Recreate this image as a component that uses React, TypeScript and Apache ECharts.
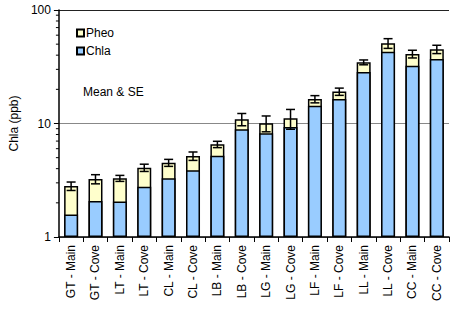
import React, { useEffect, useRef } from "react";
import * as echarts from "echarts";

const categories = [
  "GT - Main", "GT - Cove", "LT - Main", "LT - Cove", "CL - Main", "CL - Cove",
  "LB - Main", "LB - Cove", "LG - Main", "LG - Cove", "LF - Main", "LF - Cove",
  "LL - Main", "LL - Cove", "CC - Main", "CC - Cove",
];
const chla = [1.58, 2.08, 2.06, 2.77, 3.29, 3.87, 5.2, 8.9, 8.2, 9.3, 14.3, 16.4, 28.4, 42.9, 32.3, 37.0];
const pheo = [1.23, 1.16, 1.23, 1.31, 1.22, 1.3, 1.35, 2.0, 1.85, 1.8, 2.1, 2.7, 6.2, 8.0, 8.7, 8.1];
const se = [0.24, 0.3, 0.2, 0.3, 0.32, 0.44, 0.42, 1.35, 1.6, 2.2, 1.2, 1.4, 1.7, 5.0, 3.2, 3.8];
const yTicks = [1, 10, 100];
const minorTickValues = [2, 3, 4, 5, 6, 7, 8, 9, 20, 30, 40, 50, 60, 70, 80, 90];

const FONT = "Liberation Sans, Arial, sans-serif";

export default function App() {
  const ref = useRef<HTMLDivElement>(null);
  useEffect(() => {
    if (!ref.current) return;
    const chart = echarts.init(ref.current, undefined, { renderer: "svg" });
    const total = chla.map((c, i) => +(c + pheo[i]).toFixed(3));
    const errData = total.map((t, i) => [i, t - se[i], t + se[i]]);
    chart.setOption({
      animation: false,
      textStyle: { fontFamily: FONT },
      grid: { left: 58, top: 10, right: 2, bottom: 74 },
      legend: {
        orient: "vertical",
        left: 71,
        top: 22,
        itemWidth: 7,
        itemHeight: 7,
        itemGap: 6,
        icon: "rect",
        textStyle: { fontSize: 12, color: "#000", fontFamily: FONT, padding: [0, 0, 0, -3] },
        data: ["Pheo", "Chla"],
      },
      graphic: [
        {
          type: "text",
          left: 83,
          top: 86,
          style: { text: "Mean & SE", fontSize: 12, fill: "#000", fontFamily: FONT },
        },
      ],
      xAxis: {
        type: "category",
        data: categories,
        axisLine: { lineStyle: { color: "#000", width: 1.5 } },
        axisTick: { show: true, alignWithLabel: false, length: 5, lineStyle: { color: "#000" } },
        axisLabel: { rotate: 90, fontSize: 12, color: "#000", fontFamily: FONT, margin: 8, interval: 0 },
      },
      yAxis: {
        type: "log",
        logBase: 10,
        min: yTicks[0],
        max: yTicks[yTicks.length - 1],
        name: "Chla (ppb)",
        nameLocation: "middle",
        nameGap: 38,
        nameTextStyle: { fontSize: 12, color: "#000", fontFamily: FONT },
        axisLine: { show: true, lineStyle: { color: "#000", width: 1.5 } },
        axisTick: { show: true, length: 5, lineStyle: { color: "#000" } },
        minorTick: { show: false },
        axisLabel: { fontSize: 12, color: "#000", fontFamily: FONT, margin: 8 },
        splitLine: { show: true, lineStyle: { color: ["#888", "#888", "#222"], width: 1 } },
      },
      series: [
        {
          name: "Pheo",
          type: "bar",
          data: total,
          barWidth: 14,
          barGap: "-100%",
          itemStyle: { color: "#FFFFCC", borderColor: "#000", borderWidth: 1.5 },
        },
        {
          name: "Chla",
          type: "bar",
          data: chla,
          barWidth: 14,
          barGap: "-100%",
          itemStyle: { color: "#99CCFF", borderColor: "#000", borderWidth: 1.5 },
        },
        {
          name: "err",
          type: "custom",
          data: errData,
          encode: { x: 0, y: [1, 2] },
          clip: false,
          renderItem: (params: any, api: any) => {
            const i = api.value(0);
            const lo = api.coord([i, api.value(1)]);
            const hi = api.coord([i, api.value(2)]);
            const hw = 4.5;
            const st = { stroke: "#000", lineWidth: 1.5 };
            return {
              type: "group",
              children: [
                { type: "line", shape: { x1: lo[0], y1: lo[1], x2: hi[0], y2: hi[1] }, style: st },
                { type: "line", shape: { x1: hi[0] - hw, y1: hi[1], x2: hi[0] + hw, y2: hi[1] }, style: st },
                { type: "line", shape: { x1: lo[0] - hw, y1: lo[1], x2: lo[0] + hw, y2: lo[1] }, style: st },
              ],
            };
          },
          z: 5,
        },
        {
          name: "minor",
          type: "custom",
          data: minorTickValues.map((v) => [0, v]),
          encode: { x: 0, y: 1 },
          clip: false,
          silent: true,
          renderItem: (params: any, api: any) => {
            const p = api.coord([0, api.value(1)]);
            const band = api.size([1, 0])[0];
            const x = p[0] - band / 2;
            return {
              type: "line",
              shape: { x1: x - 3, y1: p[1], x2: x, y2: p[1] },
              style: { stroke: "#000", lineWidth: 1 },
            };
          },
        },
      ],
    });
    return () => chart.dispose();
  }, []);
  return <div ref={ref} style={{ position: "absolute", left: 0, top: 0, width: 451, height: 311 }} />;
}
